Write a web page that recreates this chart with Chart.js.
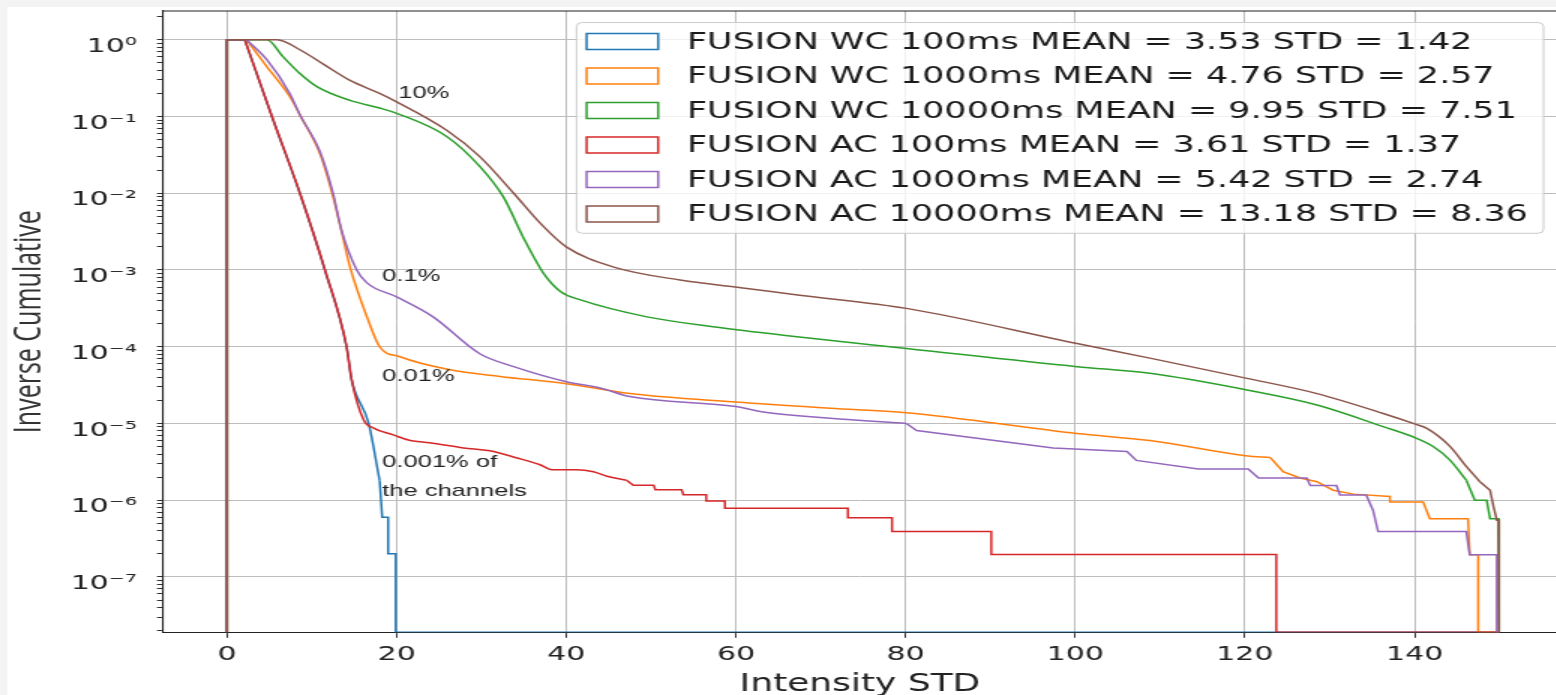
<!DOCTYPE html>
<html><head><meta charset="utf-8">
<script src="https://cdn.jsdelivr.net/npm/chart.js@4.4.1/dist/chart.umd.min.js"></script>
<style>
html,body{margin:0;padding:0;background:#fff;overflow:hidden;width:1556px;height:695px;}
#wrap{position:absolute;left:0;top:0;width:1038px;height:695px;transform:scaleX(1.5);transform-origin:0 0;}
canvas{display:block;}
</style></head><body>
<div id="wrap"><canvas id="chart" width="1038" height="695"></canvas></div>
<script>
// ---------- data ----------
const LABELS = [
  'FUSION WC 100ms MEAN = 3.53 STD = 1.42',
  'FUSION WC 1000ms MEAN = 4.76 STD = 2.57',
  'FUSION WC 10000ms MEAN = 9.95 STD = 7.51',
  'FUSION AC 100ms MEAN = 3.61 STD = 1.37',
  'FUSION AC 1000ms MEAN = 5.42 STD = 2.74',
  'FUSION AC 10000ms MEAN = 13.18 STD = 8.36'
];
const COLORS = ['#1f77b4', '#ff7f0e', '#2ca02c', '#d62728', '#9467bd', '#8c564b'];
const X_TICKS = [0, 20, 40, 60, 80, 100, 120, 140];
const Y_DECADES = [0, -1, -2, -3, -4, -5, -6, -7];
const X_MIN = -7.54, X_MAX = 156.79;
const Y_MIN = 1.9e-8, Y_MAX = 2.37;
const FLOOR = Y_MIN; // empty bins sit on the axis floor

const WC_100MS = [[0,FLOOR],[0,1],[2.1,1],[5.3,0.1],[8.6,0.01],[11.55,1e-3],[14.1,1e-4],[14.7,3.7e-5],[16.7,1e-5],[18.0,1.8e-6],[18.3,6e-7],[19.0,6e-7],[19.0,2e-7],[19.9,2e-7],[19.9,FLOOR],[150,FLOOR]];
const WC_1000MS = [[0,FLOOR],[0,1],[2.3,1],[4.7,0.447],[7.4,0.182],[8.6,0.105],[11.0,0.032],[12.4,0.01],[13.5,3.2e-3],[14.5,1.1e-3],[16.5,2.45e-4],[18.0,1e-4],[20.4,7.4e-5],[26.3,5.0e-5],[32.2,4.1e-5],[40.0,3.3e-5],[47.5,2.45e-5],[60,1.9e-5],[71.1,1.58e-5],[80.1,1.38e-5],[100.2,7.4e-6],[108.8,6.0e-6],[120.1,3.8e-6],[123,3.6e-6],[124.5,2.35e-6],[126.5,1.95e-6],[128.5,1.74e-6],[130.4,1.35e-6],[132.8,1.2e-6],[137.1,1.12e-6],[137.1,9.5e-7],[141.0,9.5e-7],[141.8,5.75e-7],[146.3,5.75e-7],[146.5,1.95e-7],[147.5,1.95e-7],[147.5,FLOOR],[150,FLOOR]];
const WC_10000MS = [[0,FLOOR],[0,1],[4.7,1],[6.6,0.603],[8.6,0.363],[10.6,0.245],[14.5,0.162],[18.0,0.129],[20,0.11],[25.9,0.055],[29.8,0.0224],[32.6,0.0089],[34.9,0.0027],[37.3,9.1e-4],[39.3,5.25e-4],[41.6,4.1e-4],[49.5,2.45e-4],[57.3,1.82e-4],[67.2,1.35e-4],[80.1,9.5e-5],[100.2,5.5e-5],[108.8,4.5e-5],[120.1,2.75e-5],[128.5,1.74e-5],[136.3,9.1e-6],[140.1,6.5e-6],[142.2,5.0e-6],[144.2,3.3e-6],[146.1,1.82e-6],[147.1,1e-6],[148.5,1e-6],[148.9,5.75e-7],[149.9,5.75e-7],[149.9,FLOOR],[150,FLOOR]];
const AC_100MS = [[0,FLOOR],[0,1],[2.1,1],[5.3,0.1],[8.6,0.01],[11.55,1e-3],[14.1,1e-4],[14.7,3.7e-5],[16.1,1.12e-5],[17.3,8.7e-6],[19.6,7.1e-6],[21.6,6.0e-6],[23.9,5.6e-6],[27.9,4.8e-6],[31.0,4.4e-6],[34.2,3.55e-6],[36.9,2.9e-6],[38.3,2.5e-6],[41.2,2.5e-6],[43.2,2.35e-6],[44.8,2.05e-6],[47.1,1.82e-6],[47.9,1.57e-6],[50.3,1.57e-6],[50.5,1.37e-6],[53.6,1.37e-6],[53.8,1.18e-6],[56.5,1.18e-6],[56.5,9.8e-7],[58.7,9.8e-7],[58.7,7.85e-7],[73.2,7.85e-7],[73.2,5.9e-7],[78.4,5.9e-7],[78.4,3.9e-7],[90.1,3.9e-7],[90.1,1.96e-7],[123.7,1.96e-7],[123.7,FLOOR],[150,FLOOR]];
const AC_1000MS = [[0,FLOOR],[0,1],[2.3,1],[4.7,0.55],[7.4,0.2],[8.6,0.105],[11.0,0.034],[12.5,0.01],[13.5,3.3e-3],[15.3,1e-3],[16.5,6.8e-4],[20,4.45e-4],[24.3,2.45e-4],[29.8,8.1e-5],[33.8,5.5e-5],[40.0,3.5e-5],[44.0,2.9e-5],[47.5,2.24e-5],[60,1.66e-5],[63.2,1.41e-5],[71.1,1.17e-5],[80.1,1e-5],[81.3,8.1e-6],[97.4,4.8e-6],[106.1,4.3e-6],[107.2,3.3e-6],[114.5,2.55e-6],[120.4,2.55e-6],[121.6,1.95e-6],[127.3,1.95e-6],[127.7,1.55e-6],[130.8,1.55e-6],[131.2,1.17e-6],[134.3,1.17e-6],[135.1,7.4e-7],[135.7,3.9e-7],[146.1,3.9e-7],[146.5,1.95e-7],[149.7,1.95e-7],[149.7,FLOOR],[150,FLOOR]];
const AC_10000MS = [[0,FLOOR],[0,1],[5.9,1],[8.6,0.741],[11.5,0.47],[14.5,0.295],[18.0,0.2],[20,0.155],[25.9,0.066],[29.8,0.030],[33.8,0.01],[36.9,0.0041],[40.0,0.002],[45.5,0.0011],[53.4,7.4e-4],[61.3,5.75e-4],[67.5,4.7e-4],[80.1,3.16e-4],[100.2,1.1e-4],[108.8,7.1e-5],[120.1,3.9e-5],[128.5,2.45e-5],[136.3,1.35e-5],[140.1,9.8e-6],[141.4,8.7e-6],[144.2,5.0e-6],[146.1,2.75e-6],[147.7,1.74e-6],[148.9,1.35e-6],[149.3,8.3e-7],[149.7,5.5e-7],[149.9,5.5e-7],[149.9,FLOOR],[150,FLOOR]];
const SERIES = [WC_100MS, WC_1000MS, WC_10000MS, AC_100MS, AC_1000MS, AC_10000MS];
// x-range of each series that is drawn as a smooth curve (the rest is drawn as straight steps)
const SMOOTH_SPANS = [[2.1, 18.0], [2.3, 123], [0, 146.1], [2.1, 47.1], [2.3, 80.1], [0, 147.7]];

const NOTE_TEXTS = ['10%', '0.1%', '0.01%', '0.001% of', 'the channels'];
const NOTE_X = [20.2, 18.3, 18.3, 18.3, 18.3];
const NOTE_Y = [0.202, 8.17e-4, 4.07e-5, 3.13e-6, 1.32e-6];

// ---------- helpers ----------
const SUP = {'-':'\u207B','0':'\u2070','1':'\u00B9','2':'\u00B2','3':'\u00B3','4':'\u2074','5':'\u2075','6':'\u2076','7':'\u2077','8':'\u2078','9':'\u2079'};
const fmtPow = e => '10' + String(e).split('').map(c => SUP[c]).join('');

const framePlugin = {
  id: 'frame',
  beforeDraw(chart) {
    const {ctx, width, height} = chart;
    ctx.save();
    ctx.fillStyle = '#f3f3f3';
    ctx.fillRect(0, 0, width, height);
    ctx.fillStyle = '#ffffff';
    ctx.fillRect(4.7, 7, width, height);
    ctx.restore();
  },
  afterDatasetsDraw(chart) {
    const {ctx, chartArea: a} = chart;
    ctx.save();
    ctx.strokeStyle = '#222';
    ctx.lineWidth = 1.1;
    ctx.beginPath();
    ctx.moveTo(a.left, a.top);
    ctx.lineTo(a.right, a.top);
    ctx.stroke();
    ctx.restore();
  }
};

const notesPlugin = {
  id: 'notes',
  afterDatasetsDraw(chart) {
    const {ctx, scales: {x, y}} = chart;
    ctx.save();
    ctx.font = '17px "Liberation Sans", Arial, sans-serif';
    ctx.fillStyle = '#222';
    ctx.textAlign = 'left';
    ctx.textBaseline = 'middle';
    NOTE_TEXTS.forEach((t, i) => ctx.fillText(t, x.getPixelForValue(NOTE_X[i]), y.getPixelForValue(NOTE_Y[i])));
    ctx.restore();
  }
};

const legendPlugin = {
  id: 'boxLegend',
  afterDraw(chart) {
    const {ctx, chartArea: a} = chart;
    const left = a.left + 275.7, right = a.right - 9, top = a.top + 11.5, h = 210.8;
    ctx.save();
    ctx.beginPath();
    ctx.roundRect(left, top, right - left, h, 4);
    ctx.fillStyle = 'rgba(255,255,255,0.8)';
    ctx.fill();
    ctx.strokeStyle = '#cccccc';
    ctx.lineWidth = 1;
    ctx.stroke();
    ctx.font = '23.3px "DejaVu Sans", sans-serif';
    ctx.textAlign = 'left';
    ctx.textBaseline = 'middle';
    LABELS.forEach((lab, i) => {
      const cy = a.top + 30.5 + i * 34.5;
      ctx.fillStyle = '#ffffff';
      ctx.fillRect(a.left + 282.4, cy - 8, 47.7, 16);
      ctx.strokeStyle = COLORS[i];
      ctx.lineWidth = 1.5;
      ctx.strokeRect(a.left + 282.4, cy - 8, 47.7, 16);
      ctx.fillStyle = '#1a1a1a';
      ctx.fillText(lab, a.left + 349.3, cy + 1);
    });
    ctx.restore();
  }
};

// each series -> head (straight), smooth body (monotone), tail (straight steps)
const datasets = [];
SERIES.forEach((s, i) => {
  const [xs, xe] = SMOOTH_SPANS[i];
  let i0 = 0;
  while (i0 + 1 < s.length && s[i0 + 1][0] <= xs) i0++;
  const i1 = s.findIndex(p => p[0] >= xe);
  [[s.slice(0, i0 + 1), false], [s.slice(i0, i1 + 1), true], [s.slice(i1), false]].forEach(([pts, smooth]) => {
    datasets.push({
      label: LABELS[i],
      data: pts.map(([x, y]) => ({x, y})),
      borderColor: COLORS[i],
      backgroundColor: COLORS[i],
      borderWidth: 1.5,
      pointRadius: 0,
      fill: false,
      tension: 0,
      cubicInterpolationMode: smooth ? 'monotone' : 'default',
      order: 6 - i
    });
  });
});

new Chart(document.getElementById('chart'), {
  type: 'line',
  data: {datasets},
  options: {
    responsive: false,
    animation: false,
    devicePixelRatio: 1,
    events: [],
    layout: {padding: {top: 11, left: 0, right: 0, bottom: 0}},
    plugins: {legend: {display: false}, tooltip: {enabled: false}},
    scales: {
      x: {
        type: 'linear', min: X_MIN, max: X_MAX,
        afterBuildTicks: ax => { ax.ticks = X_TICKS.map(v => ({value: v})); },
        afterFit: ax => { ax.height = 62.7; ax.paddingLeft = 0; ax.paddingRight = 0; },
        grid: {color: '#bdbdbd', lineWidth: 1, tickLength: 5.5, tickColor: '#333', tickWidth: 1},
        border: {display: true, color: '#222', width: 1.1},
        ticks: {autoSkip: false, maxRotation: 0, font: {family: 'DejaVu Sans', size: 20}, color: '#222', padding: 5.4},
        title: {display: true, text: 'Intensity STD', font: {family: 'DejaVu Sans', size: 24, lineHeight: 0.85}, color: '#222', padding: {top: 0, bottom: 0}}
      },
      y: {
        type: 'logarithmic', min: Y_MIN, max: Y_MAX,
        afterBuildTicks: ax => {
          const t = [];
          Y_DECADES.concat([-8]).forEach(e => {
            for (let k = 1; k <= 9; k++) {
              const v = k * Math.pow(10, e);
              if (v >= Y_MIN && v <= Y_MAX) t.push({value: v, major: k === 1});
            }
          });
          ax.ticks = t.sort((p, q) => p.value - q.value);
        },
        afterFit: ax => { ax.width = 108.67; ax.paddingTop = 0; ax.paddingBottom = 0; },
        grid: {
          color: c => (c.tick && c.tick.major) ? '#bdbdbd' : 'rgba(0,0,0,0)',
          lineWidth: 1, tickLength: 4, tickColor: '#333', tickWidth: 1
        },
        border: {display: true, color: '#222', width: 1.1},
        ticks: {
          autoSkip: false, font: {family: 'DejaVu Sans', size: 20}, color: '#222', padding: 13.5, labelOffset: 7,
          callback: (v, i, t) => t[i].major ? fmtPow(Math.round(Math.log10(v))) : ''
        },
        title: {display: true, text: 'Inverse Cumulative', font: {family: 'Open Sans', size: 25, lineHeight: 1}, color: '#333', padding: {top: 7, bottom: 0}}
      }
    }
  },
  plugins: [framePlugin, notesPlugin, legendPlugin]
});
</script>
</body></html>
